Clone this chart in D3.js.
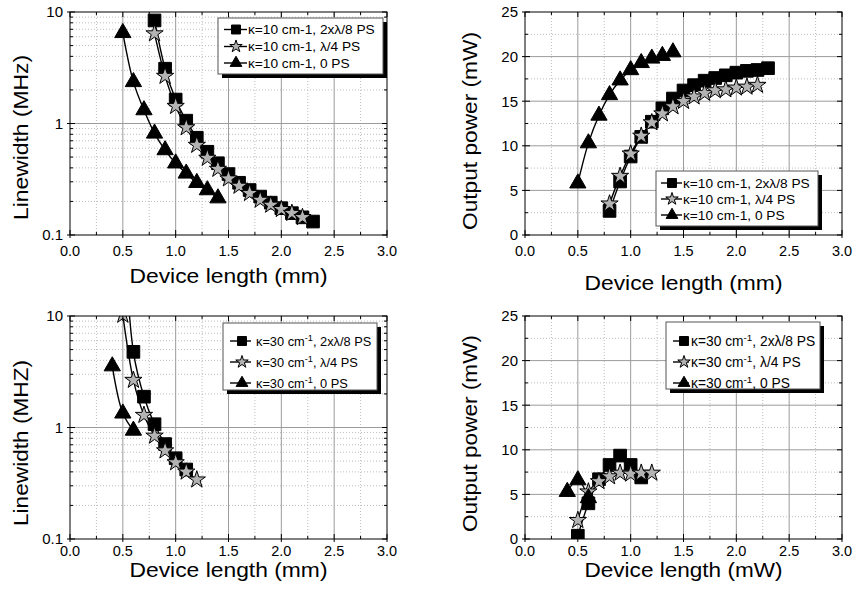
<!DOCTYPE html>
<html>
<head>
<meta http-equiv="Content-Type" content="text/html;charset=utf-8"/>
<title>Linewidth and output power vs device length</title>
<script src="https://d3js.org/d3.v7.min.js"></script>
<style type="text/css">
	body { margin: 0; background: #fff; }
	text {
		font-family: "Liberation Sans", Arial, sans-serif;
		fill: #000;
	}
	.grid-major { stroke: #9c9c9c; stroke-width: 1px; }
	.grid-minor { stroke: #bdbdbd; stroke-width: 1px; stroke-dasharray: 1,2; }
	.frame { fill: none; stroke: #000; stroke-width: 1px; }
	.tick { stroke: #000; stroke-width: 1px; }
	.curve { fill: none; stroke: #000; stroke-width: 1.4px; }
</style>
</head>
<body>
<svg width="856" height="596"></svg>

<script type="text/javascript">
// ---- data ----
// kappa = 10 cm-1, linewidth (MHz)
var lw10SqX = [0.8, 0.9, 1.0, 1.1, 1.2, 1.3, 1.4, 1.5, 1.6, 1.7, 1.8, 1.9, 2.0, 2.1, 2.2, 2.3];
var lw10Sq  = [8.4, 3.1, 1.64, 1.06, 0.745, 0.558, 0.44, 0.352, 0.294, 0.253, 0.221, 0.195, 0.174, 0.157, 0.144, 0.132];
var lw10StX = [0.8, 0.9, 1.0, 1.1, 1.2, 1.3, 1.4, 1.5, 1.6, 1.7, 1.8, 1.9, 2.0, 2.1, 2.2];
var lw10St  = [6.4, 2.66, 1.43, 0.92, 0.64, 0.49, 0.39, 0.32, 0.275, 0.237, 0.206, 0.186, 0.17, 0.157, 0.144];
var lw10TrX = [0.5, 0.6, 0.7, 0.8, 0.9, 1.0, 1.1, 1.2, 1.3, 1.4];
var lw10Tr  = [6.5, 2.36, 1.32, 0.815, 0.578, 0.44, 0.357, 0.294, 0.253, 0.214];

// kappa = 10 cm-1, output power (mW)
var pw10Sq = [2.7, 6.0, 8.8, 11.0, 12.7, 14.2, 15.3, 16.2, 16.8, 17.3, 17.6, 17.9, 18.2, 18.4, 18.5, 18.7];
var pw10St = [3.5, 6.6, 9.1, 11.1, 12.6, 13.6, 14.4, 15.0, 15.5, 15.9, 16.2, 16.3, 16.5, 16.6, 16.8];
var pw10Tr = [5.8, 10.3, 13.4, 15.7, 17.35, 18.5, 19.3, 19.8, 20.1, 20.5];

// kappa = 30 cm-1, linewidth (MHz)
var lw30SqX = [0.5, 0.6, 0.7, 0.8, 0.9, 1.0, 1.1];
var lw30Sq  = [100, 4.77, 1.89, 1.07, 0.71, 0.53, 0.42];
var lw30StX = [0.5, 0.6, 0.7, 0.8, 0.9, 1.0, 1.1, 1.2];
var lw30St  = [10.2, 2.66, 1.29, 0.84, 0.62, 0.485, 0.40, 0.34];
var lw30TrX = [0.4, 0.5, 0.6];
var lw30Tr  = [3.55, 1.34, 0.94];

// kappa = 30 cm-1, output power (mW)
var pw30Sq = [0.37, 4.0, 6.7, 8.3, 9.35, 8.3, 6.9];
var pw30St = [2.1, 5.3, 6.45, 7.0, 7.4, 7.3, 7.4, 7.4];
var pw30Tr = [5.3, 6.6, 4.6];

var xTickLabels = ["0.0", "0.5", "1.0", "1.5", "2.0", "2.5", "3.0"];
var logTickLabels = ["0.1", "1", "10"];
var linTickLabels = ["0", "5", "10", "15", "20", "25"];

var legend10 = ["κ=10 cm-1, 2xλ/8 PS", "κ=10 cm-1, λ/4 PS", "κ=10 cm-1, 0 PS"];
var legend30 = [", 2xλ/8 PS", ", λ/4 PS", ", 0 PS"];  // after "κ=30 cm" + superscript -1

var svg = d3.select("svg");
var STAR_FILL = "#b3b3b3";

function zip(xs, ys) { return xs.map(function(v, i) { return {x: v, y: ys[i]}; }); }

var panels = [
	{ id: "tl", left: 70, right: 387, top: 12, bottom: 235, log: true,
	  xLabY: 251, xTitle: "Device length (mm)", xTitleY: 283, titleFs: 21,
	  yTitle: "Linewidth (MHz)", yTitleX: 28, yTitleY: 137.5, yTitleLen: 165,
	  series: [
		{ pts: zip(lw10SqX, lw10Sq), sym: "sq" },
		{ pts: zip(lw10StX, lw10St), sym: "st" },
		{ pts: zip(lw10TrX, lw10Tr), sym: "tr" } ],
	  legend: { x: 218, y: 18, w: 165, h: 56, rows: [29.5, 46.5, 63], l0: 224, l1: 247, mk: 236, tx: 248, fs: 13.7, sup: false } },
	{ id: "tr", left: 525, right: 842, top: 12, bottom: 235, log: false,
	  xLabY: 251, xTitle: "Device length (mm)", xTitleY: 290, titleFs: 21,
	  yTitle: "Output power (mW)", yTitleX: 477, yTitleY: 131, yTitleLen: 198,
	  series: [
		{ pts: zip(lw10SqX, pw10Sq), sym: "sq" },
		{ pts: zip(lw10StX, pw10St), sym: "st" },
		{ pts: zip(lw10TrX, pw10Tr), sym: "tr" } ],
	  legend: { x: 656, y: 171, w: 162, h: 55, rows: [183, 199, 215], l0: 661, l1: 682, mk: 672, tx: 683, fs: 13.7, sup: false } },
	{ id: "bl", left: 70, right: 387, top: 316, bottom: 539, log: true,
	  xLabY: 551, xTitle: "Device length (mm)", xTitleY: 577, titleFs: 19.5,
	  yTitle: "Linewidth (MHZ)", yTitleX: 28, yTitleY: 443, yTitleLen: 166,
	  series: [
		{ pts: zip(lw30SqX, lw30Sq), sym: "sq" },
		{ pts: zip(lw30StX, lw30St), sym: "st" },
		{ pts: zip(lw30TrX, lw30Tr), sym: "tr" } ],
	  legend: { x: 223, y: 323, w: 154, h: 67, rows: [341, 362, 383], l0: 230, l1: 251, mk: 242, tx: 256, fs: 12.8, sup: true } },
	{ id: "br", left: 525, right: 842, top: 316, bottom: 539, log: false,
	  xLabY: 551, xTitle: "Device length (mW)", xTitleY: 577, titleFs: 19.5,
	  yTitle: "Output power (mW)", yTitleX: 477, yTitleY: 433.5, yTitleLen: 197,
	  series: [
		{ pts: zip(lw30SqX, pw30Sq), sym: "sq" },
		{ pts: zip(lw30StX, pw30St), sym: "st" },
		{ pts: zip(lw30TrX, pw30Tr), sym: "tr" } ],
	  legend: { x: 666, y: 322, w: 154, h: 67, rows: [341, 362, 383], l0: 673, l1: 689, mk: 684, tx: 691, fs: 13.8, sup: true } }
];

function symbolPath(kind, big) {
	if (kind == "sq") return d3.symbol().type(d3.symbolSquare).size(big ? 160 : 80)();
	if (kind == "st") return d3.symbol().type(d3.symbolStar).size(big ? 92 : 48)();
	return d3.symbol().type(d3.symbolTriangle).size(big ? 115 : 60)();
}

panels.forEach(drawPanel);

function drawPanel(p) {
	var g = svg.append("g").attr("class", "panel-" + p.id);
	var x = d3.scaleLinear().domain([0, 3]).range([p.left, p.right]);
	var y = p.log
		? d3.scaleLog().domain([0.1, 10]).range([p.bottom, p.top])
		: d3.scaleLinear().domain([0, 25]).range([p.bottom, p.top]);

	var xMajor = d3.range(0, 3.001, 0.5);
	var xMinor = d3.range(0.25, 3, 0.5);
	var yMajor, yMinor;
	if (p.log) {
		yMajor = [0.1, 1, 10];
		yMinor = y.ticks().filter(function(v) { return yMajor.indexOf(+v.toPrecision(3)) < 0; });
	} else {
		yMajor = d3.range(0, 25.001, 5);
		yMinor = d3.range(2.5, 25, 5);
	}

	// grid: dotted minors, solid majors
	g.selectAll(".gxm").data(xMinor).enter().append("line").attr("class", "grid-minor")
		.attr("x1", x).attr("x2", x).attr("y1", p.top).attr("y2", p.bottom);
	g.selectAll(".gym").data(yMinor).enter().append("line").attr("class", "grid-minor")
		.attr("x1", p.left).attr("x2", p.right).attr("y1", y).attr("y2", y);
	g.selectAll(".gxM").data(xMajor.slice(1, -1)).enter().append("line").attr("class", "grid-major")
		.attr("x1", x).attr("x2", x).attr("y1", p.top).attr("y2", p.bottom);
	g.selectAll(".gyM").data(yMajor.slice(1, -1)).enter().append("line").attr("class", "grid-major")
		.attr("x1", p.left).attr("x2", p.right).attr("y1", y).attr("y2", y);

	// data curves and symbols, clipped to the frame
	var clipId = "clip-" + p.id;
	g.append("clipPath").attr("id", clipId).append("rect")
		.attr("x", p.left).attr("y", p.top).attr("width", p.right - p.left).attr("height", p.bottom - p.top);
	var plot = g.append("g").attr("clip-path", "url(#" + clipId + ")");
	var line = d3.line().x(function(d) { return x(d.x); }).y(function(d) { return y(d.y); })
		.curve(d3.curveCatmullRom.alpha(0.5));

	p.series.forEach(function(s) {
		plot.append("path").attr("class", "curve").attr("d", line(s.pts));
	});
	p.series.forEach(function(s) {
		plot.selectAll(null).data(s.pts).enter().append("path")
			.attr("d", symbolPath(s.sym, true))
			.attr("transform", function(d) { return "translate(" + x(d.x) + "," + y(d.y) + ")"; })
			.attr("fill", s.sym == "st" ? STAR_FILL : "#000")
			.attr("stroke", "#000").attr("stroke-width", 1);
	});

	// frame and inward ticks on all four sides
	g.append("rect").attr("class", "frame")
		.attr("x", p.left).attr("y", p.top).attr("width", p.right - p.left).attr("height", p.bottom - p.top);
	xMajor.forEach(function(v) {
		g.append("line").attr("class", "tick").attr("x1", x(v)).attr("x2", x(v)).attr("y1", p.bottom + 3).attr("y2", p.bottom - 5);
		g.append("line").attr("class", "tick").attr("x1", x(v)).attr("x2", x(v)).attr("y1", p.top).attr("y2", p.top + 5);
	});
	xMinor.forEach(function(v) {
		g.append("line").attr("class", "tick").attr("x1", x(v)).attr("x2", x(v)).attr("y1", p.bottom).attr("y2", p.bottom - 3);
		g.append("line").attr("class", "tick").attr("x1", x(v)).attr("x2", x(v)).attr("y1", p.top).attr("y2", p.top + 3);
	});
	yMajor.forEach(function(v) {
		g.append("line").attr("class", "tick").attr("x1", p.left - 3).attr("x2", p.left + 5).attr("y1", y(v)).attr("y2", y(v));
		g.append("line").attr("class", "tick").attr("x1", p.right - 5).attr("x2", p.right).attr("y1", y(v)).attr("y2", y(v));
	});
	yMinor.forEach(function(v) {
		g.append("line").attr("class", "tick").attr("x1", p.left).attr("x2", p.left + 3).attr("y1", y(v)).attr("y2", y(v));
		g.append("line").attr("class", "tick").attr("x1", p.right - 3).attr("x2", p.right).attr("y1", y(v)).attr("y2", y(v));
	});

	// tick labels
	g.selectAll(".xl").data(xMajor).enter().append("text")
		.attr("x", x).attr("y", p.xLabY).attr("dy", "0.36em")
		.attr("text-anchor", "middle").style("font-size", "14.5px")
		.text(function(d, i) { return xTickLabels[i]; });
	var yLabs = p.log ? logTickLabels : linTickLabels;
	g.selectAll(".yl").data(yMajor).enter().append("text")
		.attr("x", p.left - 7).attr("y", y).attr("dy", "0.36em")
		.attr("text-anchor", "end").style("font-size", "15px")
		.text(function(d, i) { return yLabs[i]; });

	// axis titles
	g.append("text")
		.attr("x", (p.left + p.right) / 2).attr("y", p.xTitleY)
		.attr("text-anchor", "middle").style("font-size", p.titleFs + "px")
		.attr("textLength", 198).attr("lengthAdjust", "spacingAndGlyphs")
		.text(p.xTitle);
	g.append("text")
		.attr("transform", "translate(" + p.yTitleX + "," + p.yTitleY + ") rotate(-90)")
		.attr("text-anchor", "middle").style("font-size", "21px")
		.attr("textLength", p.yTitleLen).attr("lengthAdjust", "spacingAndGlyphs")
		.text(p.yTitle);

	drawLegend(g, p.legend);
}

function drawLegend(g, L) {
	var lg = g.append("g").attr("class", "legend");
	lg.append("rect").attr("x", L.x + 4).attr("y", L.y + 4).attr("width", L.w).attr("height", L.h).attr("fill", "#000");
	lg.append("rect").attr("x", L.x).attr("y", L.y).attr("width", L.w).attr("height", L.h)
		.attr("fill", "#fff").attr("stroke", "#555").attr("stroke-width", 1);
	var kinds = ["sq", "st", "tr"];
	kinds.forEach(function(k, i) {
		var ry = L.rows[i];
		lg.append("line").attr("x1", L.l0).attr("x2", L.l1).attr("y1", ry).attr("y2", ry)
			.attr("stroke", "#000").attr("stroke-width", 1.4);
		lg.append("path").attr("d", symbolPath(k, false))
			.attr("transform", "translate(" + L.mk + "," + ry + ")")
			.attr("fill", k == "st" ? STAR_FILL : "#000").attr("stroke", "#000").attr("stroke-width", 1);
		var t = lg.append("text").attr("x", L.tx).attr("y", ry).attr("dy", "0.36em").style("font-size", L.fs + "px");
		if (L.sup) {
			t.append("tspan").text("κ=30 cm");
			t.append("tspan").attr("dy", "-0.45em").style("font-size", "0.72em").text("-1");
			t.append("tspan").attr("dy", "0.32em").text(legend30[i]);
		} else {
			t.text(legend10[i]);
		}
	});
}
</script>
</body>
</html>
